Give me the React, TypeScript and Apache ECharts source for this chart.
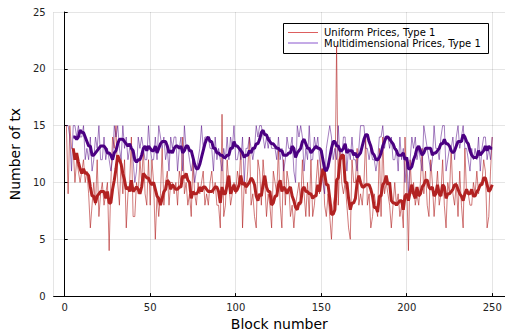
import React, { useEffect, useRef } from "react";
import * as echarts from "echarts";

// Raw number of transactions per block (blocks 1..250)
const uniformRaw: number[] = [
  15, 9, 15, 13, 13, 10, 12, 11, 10, 11,
  12, 10, 11, 9, 6, 8, 10, 8, 12, 7,
  9, 10, 8, 9, 10, 4, 10, 14, 13, 15,
  10, 8, 12, 9, 12, 6, 9, 10, 14, 7,
  7, 10, 9, 12, 10, 13, 9, 8, 12, 8,
  12, 10, 5, 9, 7, 9, 13, 8, 10, 11,
  8, 10, 10, 9, 10, 8, 11, 10, 14, 9,
  10, 8, 9, 7, 12, 9, 8, 10, 9, 10,
  11, 8, 9, 8, 10, 11, 9, 10, 8, 8,
  6, 16, 7, 8, 12, 10, 8, 9, 10, 9,
  11, 10, 13, 6, 10, 9, 11, 14, 8, 9,
  7, 6, 12, 11, 8, 12, 10, 7, 9, 8,
  6, 11, 10, 9, 13, 8, 6, 12, 8, 11,
  10, 7, 8, 6, 8, 9, 10, 8, 12, 9,
  7, 10, 7, 12, 7, 8, 10, 12, 9, 13,
  12, 8, 7, 9, 7, 5, 8, 9, 22, 8,
  13, 10, 9, 10, 8, 6, 5, 12, 10, 10,
  13, 8, 9, 8, 10, 14, 8, 9, 6, 7,
  9, 8, 7, 13, 7, 14, 9, 10, 9, 8,
  6, 8, 10, 8, 9, 7, 8, 6, 14, 10,
  4, 12, 9, 10, 8, 9, 8, 10, 13, 9,
  11, 8, 7, 12, 10, 7, 9, 11, 8, 9,
  12, 8, 6, 10, 9, 13, 9, 8, 10, 7,
  11, 8, 6, 13, 9, 9, 8, 8, 10, 9,
  11, 9, 10, 10, 12, 11, 6, 7, 11, 14,
];

const multiRaw: number[] = [
  15, 15, 14, 11, 15, 15, 14, 15, 14, 14,
  15, 12, 13, 12, 14, 11, 12, 14, 13, 15,
  12, 12, 14, 12, 13, 12, 11, 12, 15, 14,
  15, 13, 12, 15, 13, 14, 12, 13, 13, 12,
  10, 11, 14, 13, 14, 13, 12, 12, 15, 13,
  12, 12, 14, 12, 15, 14, 13, 14, 12, 13,
  11, 14, 13, 14, 14, 11, 13, 14, 11, 15,
  13, 13, 12, 11, 12, 10, 11, 12, 13, 15,
  13, 14, 14, 14, 13, 13, 11, 14, 12, 13,
  12, 11, 13, 12, 14, 12, 14, 13, 15, 12,
  12, 13, 12, 14, 10, 13, 13, 14, 13, 12,
  13, 15, 14, 15, 15, 14, 13, 14, 13, 14,
  13, 13, 13, 12, 14, 12, 13, 11, 12, 14,
  13, 13, 14, 11, 10, 15, 14, 15, 14, 11,
  13, 12, 15, 12, 12, 14, 13, 14, 12, 11,
  10, 9, 13, 14, 15, 14, 12, 13, 12, 15,
  12, 12, 14, 14, 11, 13, 12, 14, 12, 12,
  11, 13, 15, 15, 15, 13, 13, 12, 13, 12,
  12, 11, 12, 14, 14, 15, 13, 14, 14, 13,
  14, 12, 12, 13, 11, 14, 12, 13, 10, 12,
  9, 12, 14, 13, 14, 12, 13, 12, 11, 15,
  14, 13, 12, 11, 12, 15, 13, 13, 12, 14,
  15, 15, 11, 12, 13, 13, 14, 12, 14, 15,
  13, 14, 15, 13, 13, 12, 11, 13, 12, 13,
  12, 14, 11, 13, 14, 14, 12, 13, 12, 14,
];

const seriesNames = ["Uniform Prices, Type 1", "Multidimensional Prices, Type 1"];
const yTicks = [0, 5, 10, 15, 20, 25];
const xTicks = [0, 50, 100, 150, 200, 250];
const smoothWindow = 5;

const rawColors = ["rgba(178,34,34,0.6)", "rgba(75,0,130,0.5)"];
const legendColors = ["rgba(210,40,40,0.75)", "rgba(100,30,190,0.75)"];
const smoothColors = ["#b22222", "#4b0082"];

function toPairs(values: number[]): [number, number][] {
  return values.map((v, i) => [i + 1, v]);
}

function movingAverage(values: number[], w: number): [number, number][] {
  const out: [number, number][] = [];
  for (let i = w - 1; i < values.length; i++) {
    let s = 0;
    for (let k = i - w + 1; k <= i; k++) s += values[k];
    out.push([i + 1, s / w]);
  }
  return out;
}

const FONT = "DejaVu Sans";

export default function App() {
  const ref = useRef<HTMLDivElement>(null);

  useEffect(() => {
    if (!ref.current) return;
    const chart = echarts.init(ref.current, null, { renderer: "svg" });
    const gridColor = "rgba(0,0,0,0.1)";
    const option: any = {
      animation: false,
      backgroundColor: "#ffffff",
      grid: { left: 50, width: 455, top: 12, height: 289, containLabel: false },
      xAxis: {
        type: "value",
        min: -6.47,
        max: 257.47,
        splitNumber: 5,
        name: "Block number",
        nameLocation: "middle",
        nameGap: 20,
        nameTextStyle: { fontFamily: FONT, fontSize: 14, color: "#000" },
        axisLine: { show: true, onZero: false, lineStyle: { color: "#000", width: 1 } },
        axisTick: { show: true, inside: true, length: 3, lineStyle: { color: "#000" } },
        splitLine: { show: true, lineStyle: { color: gridColor, width: 1 } },
        axisLabel: {
          fontFamily: FONT,
          fontSize: 10,
          color: "#222",
          margin: 6,
          showMinLabel: false,
          showMaxLabel: false,
          formatter: (v: number) => (xTicks.includes(v) ? String(v) : ""),
        },
      },
      yAxis: {
        type: "value",
        min: yTicks[0],
        max: yTicks[yTicks.length - 1],
        interval: 5,
        name: "Number of tx",
        nameLocation: "middle",
        nameGap: 27,
        nameTextStyle: { fontFamily: FONT, fontSize: 14, color: "#000" },
        axisLine: { show: true, lineStyle: { color: "#000", width: 1 } },
        axisTick: { show: true, inside: true, length: 3, lineStyle: { color: "#000" } },
        splitLine: { show: true, lineStyle: { color: gridColor, width: 1 } },
        axisLabel: { fontFamily: FONT, fontSize: 10, color: "#222", margin: 8 },
      },
      series: [
        {
          name: seriesNames[0],
          type: "line",
          data: toPairs(uniformRaw),
          showSymbol: false,
          lineStyle: { color: rawColors[0], width: 1 },
          itemStyle: { color: rawColors[0] },
          z: 2,
        },
        {
          name: seriesNames[1],
          type: "line",
          data: toPairs(multiRaw),
          showSymbol: false,
          lineStyle: { color: rawColors[1], width: 1 },
          itemStyle: { color: rawColors[1] },
          z: 2,
        },
        {
          name: seriesNames[0] + " (smoothed)",
          type: "line",
          data: movingAverage(uniformRaw, smoothWindow),
          showSymbol: false,
          lineStyle: { color: smoothColors[0], width: 3 },
          itemStyle: { color: smoothColors[0] },
          z: 3,
        },
        {
          name: seriesNames[1] + " (smoothed)",
          type: "line",
          data: movingAverage(multiRaw, smoothWindow),
          showSymbol: false,
          lineStyle: { color: smoothColors[1], width: 3 },
          itemStyle: { color: smoothColors[1] },
          z: 3,
        },
      ],
      graphic: [
        {
          type: "group",
          z: 100,
          children: [
            {
              type: "rect",
              shape: { x: 283.5, y: 23.5, width: 205, height: 30 },
              style: { fill: "#fff", stroke: "#000", lineWidth: 1 },
            },
            {
              type: "line",
              shape: { x1: 288, y1: 32.5, x2: 318, y2: 32.5 },
              style: { stroke: legendColors[0], lineWidth: 1 },
            },
            {
              type: "text",
              x: 324,
              y: 32.5,
              style: {
                text: seriesNames[0],
                font: `10px "${FONT}"`,
                fill: "#000",
                verticalAlign: "middle",
              },
            },
            {
              type: "line",
              shape: { x1: 288, y1: 43, x2: 318, y2: 43 },
              style: { stroke: legendColors[1], lineWidth: 1 },
            },
            {
              type: "text",
              x: 324,
              y: 43,
              style: {
                text: seriesNames[1],
                font: `10px "${FONT}"`,
                fill: "#000",
                verticalAlign: "middle",
              },
            },
          ],
        },
      ],
    };
    chart.setOption(option);
    return () => chart.dispose();
  }, []);

  return (
    <div
      ref={ref}
      style={{ position: "fixed", left: 0, top: 0, width: 505, height: 336, background: "#fff" }}
    />
  );
}
